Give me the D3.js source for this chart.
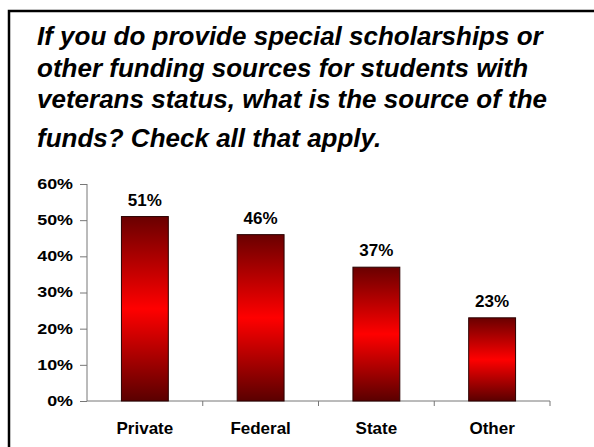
<!DOCTYPE html>
<html lang="en">
  <head>
    <meta charset="UTF-8" />
    <title>Funding sources</title>
    <script src="https://d3js.org/d3.v7.min.js"></script>
    <style>
      body { margin: 0; background: #fff; }
      text { font-family: "Liberation Sans", Arial, sans-serif; }
    </style>
  </head>
  <body>
    <svg width="594" height="447"></svg>
    <script>
      let categories = ["Private", "Federal", "State", "Other"];
      let values = [51, 46, 37, 23];
      let yTicks = [0, 10, 20, 30, 40, 50, 60];
      let titleLines = [
        "If you do provide special scholarships or",
        "other funding sources for students with",
        "veterans status, what is the source of the",
        "funds? Check all that apply.",
      ];

      let svg = d3.select("svg");

      // outer frame (runs off the right and bottom edge)
      svg.append("rect")
        .attr("x", 9).attr("y", 11)
        .attr("width", 600).attr("height", 450)
        .attr("fill", "none")
        .attr("stroke", "#000")
        .attr("stroke-width", 2.5);

      let baselines = [45, 77, 108, 147];
      svg.append("g")
        .selectAll("text")
        .data(titleLines)
        .enter()
        .append("text")
        .attr("x", 37)
        .attr("y", (d, i) => baselines[i])
        .attr("font-size", 26)
        .attr("font-weight", "bold")
        .attr("font-style", "italic")
        .text((d) => d);

      let grad = svg.append("defs").append("linearGradient")
        .attr("id", "barGrad")
        .attr("x1", 0).attr("y1", 0).attr("x2", 0).attr("y2", 1);
      grad.append("stop").attr("offset", "0%").attr("stop-color", "#6a0000");
      grad.append("stop").attr("offset", "50%").attr("stop-color", "#ff0000");
      grad.append("stop").attr("offset", "100%").attr("stop-color", "#5a0000");

      let x = d3.scaleBand().domain(categories).range([87, 550]).padding(0);
      let y = d3.scaleLinear().domain([0, 60]).range([401, 184]);
      let barW = x.bandwidth() * 0.405;
      let sx = 1.28; // tick labels look horizontally stretched

      // y axis
      let yAxis = svg.append("g")
        .attr("transform", "translate(87,0)")
        .call(d3.axisLeft(y).tickValues(yTicks).tickSize(7).tickPadding(7)
          .tickFormat((d) => d + "%"));
      yAxis.select(".domain").attr("stroke", "#777").attr("d", "M0,184V401");
      yAxis.selectAll(".tick line").attr("stroke", "#777");
      yAxis.selectAll(".tick text")
        .attr("font-size", 14)
        .attr("font-weight", "bold")
        .attr("fill", "#000")
        .attr("font-family", "Liberation Sans, Arial, sans-serif")
        .attr("x", -14 / sx)
        .attr("transform", "scale(" + sx + ",1)");

      // x axis with ticks between categories
      let xAxis = svg.append("g").attr("transform", "translate(0,401)");
      xAxis.append("line")
        .attr("x1", 87).attr("x2", 550)
        .attr("stroke", "#777");
      xAxis.selectAll(".sep")
        .data(categories)
        .enter()
        .append("line")
        .attr("x1", (d) => x(d) + x.bandwidth())
        .attr("x2", (d) => x(d) + x.bandwidth())
        .attr("y1", 0).attr("y2", 5)
        .attr("stroke", "#777");
      xAxis.selectAll("text")
        .data(categories)
        .enter()
        .append("text")
        .attr("x", (d) => x(d) + x.bandwidth() / 2)
        .attr("y", 33)
        .attr("text-anchor", "middle")
        .attr("font-size", 17)
        .attr("font-weight", "bold")
        .text((d) => d);

      let bars = svg.append("g");
      bars.selectAll("rect")
        .data(values)
        .enter()
        .append("rect")
        .attr("x", (d, i) => x(categories[i]) + (x.bandwidth() - barW) / 2)
        .attr("y", (d) => y(d))
        .attr("width", barW)
        .attr("height", (d) => y(0) - y(d))
        .attr("fill", "url(#barGrad)")
        .attr("stroke", "#2a0000")
        .attr("stroke-width", 1);

      bars.selectAll("text")
        .data(values)
        .enter()
        .append("text")
        .attr("x", (d, i) => x(categories[i]) + x.bandwidth() / 2)
        .attr("y", (d) => y(d) - 11)
        .attr("text-anchor", "middle")
        .attr("font-size", 17)
        .attr("font-weight", "bold")
        .text((d) => d + "%");
    </script>
  </body>
</html>
